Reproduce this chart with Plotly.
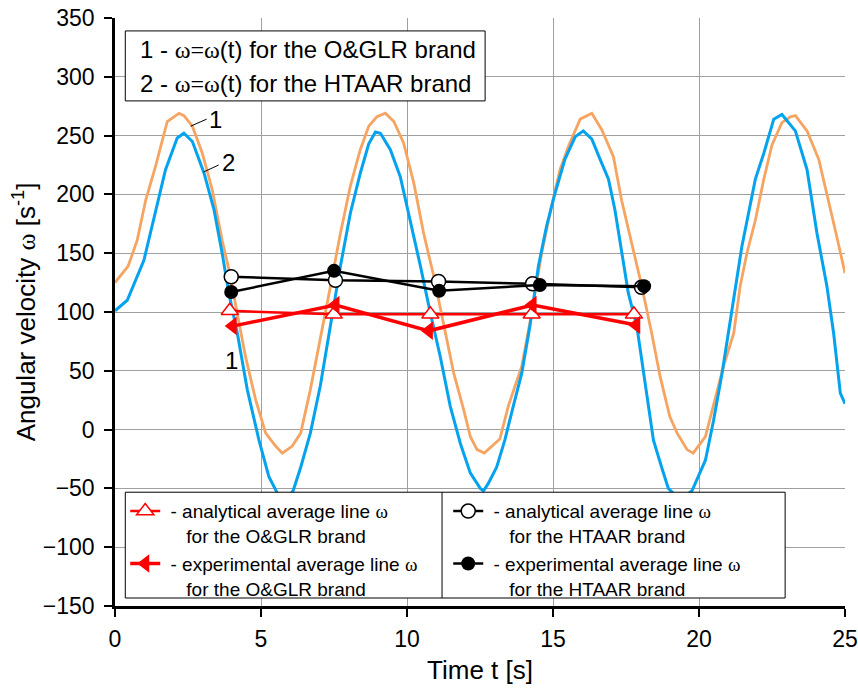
import plotly.graph_objects as go

# ---- data ----
t_oglr = [0.0, 0.45, 0.76, 1.05, 1.39, 1.79, 2.19, 2.36, 2.65, 2.99, 3.33, 3.67, 3.9, 4.19, 4.47, 4.82,
          5.16, 5.5, 5.73, 6.07, 6.36, 6.69, 7.03, 7.38, 7.72, 8.06, 8.4, 8.69, 8.97, 9.26, 9.55, 9.88,
          10.23, 10.57, 10.92, 11.26, 11.6, 11.94, 12.17, 12.4, 12.65, 12.78, 13.18, 13.47, 13.93, 14.27,
          14.61, 14.95, 15.24, 15.53, 15.93, 16.33, 16.67, 17.07, 17.35, 17.69, 18.04, 18.38, 18.67, 19.0,
          19.25, 19.59, 19.8, 20.22, 20.5, 20.84, 21.19, 21.41, 21.64, 21.93, 22.22, 22.5, 22.84, 23.13,
          23.3, 23.7, 24.1, 24.38, 24.72, 25.0]
w_oglr = [125, 139, 161, 195, 224, 262, 269, 267, 258, 235, 204, 161, 136, 99, 62, 25,
          -3, -14, -20, -14, -3, 34, 76, 122, 167, 207, 238, 258, 266, 269, 262, 244,
          210, 167, 130, 88, 48, 17, -6, -17, -20, -17, -8, 20, 54, 99,
          150, 190, 221, 241, 264, 269, 255, 232, 195, 159, 122, 82, 45, 11,
          -3, -17, -20, -6, 20, 54, 82, 122, 150, 178, 213, 242, 261, 266,
          267, 254, 230, 201, 164, 133]

t_htaar = [0.0, 0.42, 0.99, 1.39, 1.73, 2.13, 2.36, 2.65, 3.05, 3.39, 3.67, 3.9, 4.19, 4.53, 4.93, 5.27,
           5.6, 5.85, 6.1, 6.36, 6.69, 7.03, 7.38, 7.72, 8.06, 8.4, 8.69, 8.92, 9.09, 9.43, 9.77, 10.11,
           10.46, 10.8, 11.14, 11.48, 11.83, 12.17, 12.51, 12.62, 12.78, 13.07, 13.35, 13.64, 13.93, 14.21,
           14.5, 14.78, 15.07, 15.41, 15.76, 16.04, 16.33, 16.61, 16.9, 17.12, 17.35, 17.58, 17.87, 18.15,
           18.44, 18.72, 18.95, 19.35, 19.76, 20.22, 20.5, 20.79, 21.07, 21.47, 21.93, 22.22, 22.56, 22.84,
           23.3, 23.7, 24.04, 24.38, 24.61, 24.84, 25.0]
w_htaar = [101, 110, 144, 187, 221, 248, 252, 245, 218, 187, 150, 116, 82, 34, -9, -40,
           -56, -60, -52, -32, -3, 37, 88, 139, 184, 218, 243, 253, 252, 238, 215, 178,
           139, 99, 62, 20, -12, -37, -50, -52, -46, -32, -9, 20, 48, 88,
           139, 173, 201, 230, 249, 254, 247, 230, 213, 187, 150, 116, 88, 42,
           -9, -32, -50, -60, -52, -26, 8, 48, 93, 156, 213, 235, 264, 268,
           254, 221, 167, 122, 82, 31, 22]

t_an_oglr = [3.93, 7.49, 10.8, 14.27, 17.77]
w_an_oglr = [101, 98, 98, 98, 98]
t_ex_oglr = [4.03, 7.55, 10.75, 14.3, 17.85]
w_ex_oglr = [88, 106, 84, 106, 89]
t_an_htaar = [3.98, 7.55, 11.08, 14.3, 18.03]
w_an_htaar = [130, 127, 126, 124, 121]
t_ex_htaar = [3.98, 7.5, 11.1, 14.55, 18.12]
w_ex_htaar = [117, 135, 118, 123, 122]

x_ticks = [0, 5, 10, 15, 20, 25]
y_ticks = [-150, -100, -50, 0, 50, 100, 150, 200, 250, 300, 350]

SANS = "Liberation Sans, Arial, sans-serif"
OM = "<span style='font-family:Liberation Serif'>ω</span>"
IND = "&nbsp;&nbsp;&nbsp;&nbsp;"

fig = go.Figure()
fig.add_trace(go.Scatter(x=t_oglr, y=w_oglr, mode="lines", line=dict(color="#F5A462", width=2.8),
                         showlegend=False))
fig.add_trace(go.Scatter(x=t_htaar, y=w_htaar, mode="lines", line=dict(color="#05A3EE", width=3),
                         showlegend=False))

fig.add_trace(go.Scatter(x=t_an_oglr, y=w_an_oglr, mode="lines+markers",
                         line=dict(color="#FF0000", width=2.5),
                         marker=dict(symbol="triangle-up", size=15, color="white",
                                     line=dict(color="#FF0000", width=1.5)),
                         name="&nbsp;- analytical average line " + OM + "<br>" + IND + "for the O&amp;GLR brand"))
fig.add_trace(go.Scatter(x=t_an_htaar, y=w_an_htaar, mode="lines+markers",
                         line=dict(color="black", width=2.5),
                         marker=dict(symbol="circle", size=14, color="white",
                                     line=dict(color="black", width=1.5)),
                         name="&nbsp;- analytical average line " + OM + "<br>" + IND + "for the HTAAR brand"))
fig.add_trace(go.Scatter(x=t_ex_oglr, y=w_ex_oglr, mode="lines+markers",
                         line=dict(color="#FF0000", width=3.5),
                         marker=dict(symbol="triangle-left", size=16, color="#FF0000"),
                         name="&nbsp;- experimental average line " + OM + "<br>" + IND + "for the O&amp;GLR brand"))
fig.add_trace(go.Scatter(x=t_ex_htaar, y=w_ex_htaar, mode="lines+markers",
                         line=dict(color="black", width=2.5),
                         marker=dict(symbol="circle", size=14, color="black"),
                         name="&nbsp;- experimental average line " + OM + "<br>" + IND + "for the HTAAR brand"))

axis_common = dict(showgrid=True, gridcolor="#A0A0A0", gridwidth=1.3, zeroline=False,
                   ticks="outside", ticklen=8, tickwidth=2, tickcolor="black",
                   showline=True, linecolor="black", linewidth=2.5, automargin=False,
                   tickfont=dict(family=SANS, size=23, color="black"))

fig.update_layout(
    width=858, height=693,
    margin=dict(l=115, r=13, t=18, b=87),
    paper_bgcolor="white", plot_bgcolor="white",
    font=dict(family=SANS, color="black"),
    xaxis=dict(range=[0, 25], tickvals=x_ticks, ticklabelstandoff=3,
               title=dict(text="Time t [s]", font=dict(size=26), standoff=10),
               **axis_common),
    yaxis=dict(range=[-150, 350], tickvals=y_ticks, ticklabelstandoff=5,
               title=dict(text="Angular velocity " + OM + " [s<sup>-1</sup>]", font=dict(size=26), standoff=0),
               **axis_common),
    legend=dict(orientation="h", x=0.014, y=0.1935, xanchor="left", yanchor="top",
                bgcolor="rgba(0,0,0,0)", borderwidth=0, entrywidth=278, entrywidthmode="pixels",
                valign="top", font=dict(family=SANS, size=19, color="black"), traceorder="normal",
                itemclick=False),
    shapes=[
        # bottom legend frame and divider
        dict(type="rect", xref="paper", yref="paper", x0=0.0141, x1=0.918, y0=0.0136, y1=0.1935,
             fillcolor="white", line=dict(color="black", width=1), layer="above"),
        dict(type="line", xref="paper", yref="paper", x0=0.448, x1=0.448, y0=0.0136, y1=0.1935,
             line=dict(color="black", width=1), layer="above"),
        # top text box
        dict(type="rect", xref="paper", yref="paper", x0=0.0141, x1=0.507, y0=0.859, y1=0.978,
             fillcolor="white", line=dict(color="black", width=1), layer="above"),
        # leader lines for curve labels
        dict(type="line", xref="x", yref="y", x0=2.59, y0=258, x1=3.14, y1=264,
             line=dict(color="black", width=1)),
        dict(type="line", xref="x", yref="y", x0=3.03, y0=219, x1=3.55, y1=225,
             line=dict(color="black", width=1)),
    ],
    annotations=[
        dict(xref="paper", yref="paper", x=0.032, y=0.947, xanchor="left", yanchor="middle", showarrow=False,
             text="1 - " + "<span style='font-family:Liberation Serif'>ω=ω</span>(t) for the O&amp;GLR brand",
             font=dict(size=24)),
        dict(xref="paper", yref="paper", x=0.032, y=0.889, xanchor="left", yanchor="middle", showarrow=False,
             text="2 - " + "<span style='font-family:Liberation Serif'>ω=ω</span>(t) for the HTAAR brand",
             font=dict(size=24)),
        dict(xref="x", yref="y", x=3.43, y=264, text="1", showarrow=False, font=dict(size=24)),
        dict(xref="x", yref="y", x=3.87, y=227, text="2", showarrow=False, font=dict(size=24)),
        dict(xref="x", yref="y", x=3.99, y=59, text="1", showarrow=False, font=dict(size=24)),
    ],
)

fig.write_html("out.html")
